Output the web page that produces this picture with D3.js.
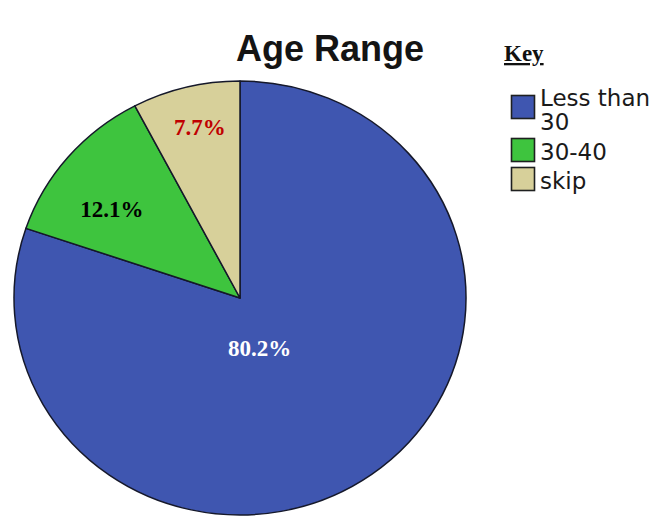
<!DOCTYPE html>
<html>
<head>
<meta charset="utf-8">
<script src="https://cdn.jsdelivr.net/npm/d3@7"></script>
<style>
  html, body { margin: 0; padding: 0; background: #ffffff; }
  svg { display: block; }
</style>
</head>
<body>
<svg id="chart" width="655" height="517"></svg>
<script>
// Age range shares (percent)
const categories = ["Less than 30", "30-40", "skip"];
const legendLines = [["Less than", "30"], ["30-40"], ["skip"]];
const shares = [80.2, 12.1, 7.7];
const labelTexts = ["80.2%", "12.1%", "7.7%"];
const sliceColors = ["#3f56b0", "#3ec43e", "#d7d09a"];
const labelColors = ["#ffffff", "#000000", "#c00000"];

const svg = d3.select("#chart");

// Pie geometry (slightly wider than tall)
const cx = 240, cy = 298, rx = 226, ry = 217;

const pie = d3.pie().sort(null).value(d => d).startAngle(0).endAngle(2 * Math.PI);
const arcs = pie(shares);
const arc = d3.arc().innerRadius(0).outerRadius(rx);

const pieG = svg.append("g")
  .attr("transform", `translate(${cx},${cy}) scale(1,${ry / rx})`);

pieG.selectAll("path.slice")
  .data(arcs)
  .join("path")
  .attr("class", "slice")
  .attr("d", arc)
  .attr("fill", (d, i) => sliceColors[i])
  .attr("stroke", "#15182a")
  .attr("stroke-width", 1.5)
  .attr("stroke-linejoin", "round")
  .attr("vector-effect", "non-scaling-stroke");

// Percentage labels: placed along each slice's bisector
const labelRadius = [0.30, 0.74, 0.78];
const labelNudge = [[-20, 0], [-1, 18], [2, -4]];
svg.selectAll("text.pct")
  .data(arcs)
  .join("text")
  .attr("class", "pct")
  .attr("x", (d, i) => {
    const a = (d.startAngle + d.endAngle) / 2;
    return cx + Math.sin(a) * rx * labelRadius[i] + labelNudge[i][0];
  })
  .attr("y", (d, i) => {
    const a = (d.startAngle + d.endAngle) / 2;
    return cy - Math.cos(a) * ry * labelRadius[i] + labelNudge[i][1];
  })
  .attr("text-anchor", "middle")
  .attr("dominant-baseline", "middle")
  .attr("font-family", "'Liberation Serif', 'Times New Roman', serif")
  .attr("font-weight", "bold")
  .attr("font-size", 23)
  .attr("fill", (d, i) => labelColors[i])
  .text((d, i) => labelTexts[i]);

// Title
svg.append("text")
  .attr("x", 330)
  .attr("y", 61)
  .attr("text-anchor", "middle")
  .attr("font-family", "'Liberation Sans', Arial, sans-serif")
  .attr("font-weight", "bold")
  .attr("font-size", 36)
  .attr("fill", "#141414")
  .text("Age Range");

// Legend heading
svg.append("text")
  .attr("x", 504)
  .attr("y", 61)
  .attr("font-family", "'Liberation Serif', 'Times New Roman', serif")
  .attr("font-weight", "bold")
  .attr("font-size", 23)
  .attr("text-decoration", "underline")
  .attr("fill", "#111")
  .text("Key");

// Legend entries
const legendTop = [95, 138, 167];
const legend = svg.append("g");
const items = legend.selectAll("g.item")
  .data(categories)
  .join("g")
  .attr("class", "item")
  .attr("transform", (d, i) => `translate(511,${legendTop[i]})`);

items.append("rect")
  .attr("x", 0.5).attr("y", 0.5)
  .attr("width", 23).attr("height", 23)
  .attr("fill", (d, i) => sliceColors[i])
  .attr("stroke", "#1e2020")
  .attr("stroke-width", 1.6);

items.each(function(d, i) {
  const t = d3.select(this).append("text")
    .attr("x", 29)
    .attr("font-family", "'DejaVu Sans', 'Liberation Sans', sans-serif")
    .attr("font-size", 23)
    .attr("fill", "#1a1a1a");
  legendLines[i].forEach((line, j) => {
    t.append("tspan")
      .attr("x", 29)
      .attr("y", (i === 0 ? 11 : 22) + j * 24)
      .text(line);
  });
});
</script>
</body>
</html>
